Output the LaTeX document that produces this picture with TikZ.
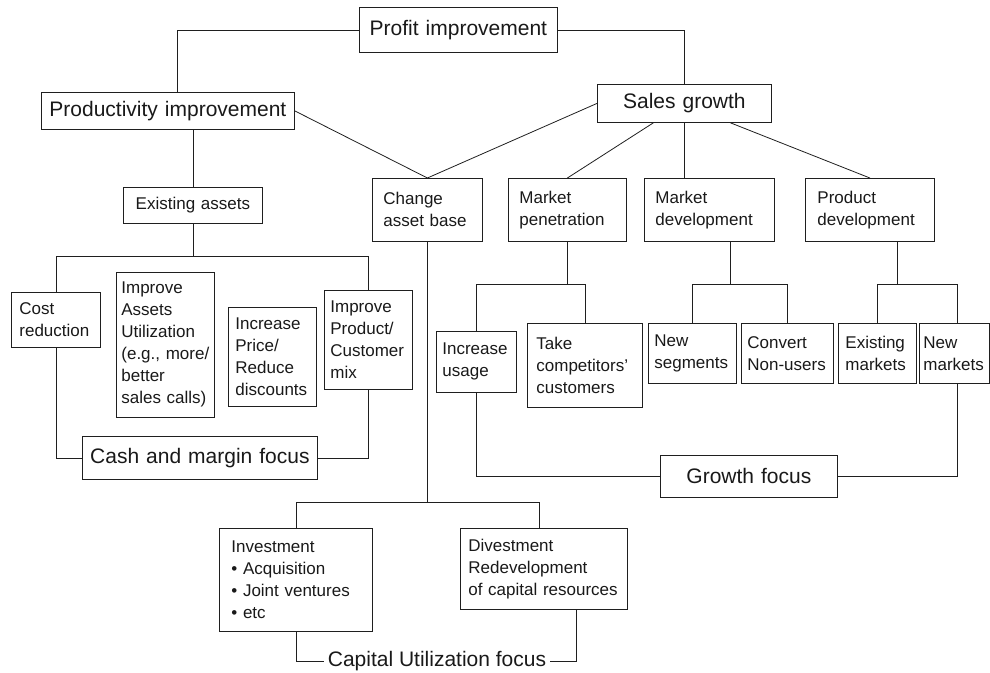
\documentclass[tikz,border=0pt]{standalone}
\usepackage{fontspec}
\setmainfont{Liberation Sans}
\usetikzlibrary{calc}

% box with its top-left corner at (#3,#4) and bottom-right corner at (#5,#6);
% #7 is the horizontal padding, #8 the text
\newcommand{\tbox}[8]{%
  \pgfmathsetmacro{\fbw}{#5-#3}%
  \pgfmathsetmacro{\fbh}{#6-#4}%
  \pgfmathsetmacro{\fbt}{#5-#3-2*#7}%
  \node[#1, anchor=north west, inner xsep=#7pt, text width=\fbt pt,
        minimum width=\fbw pt, minimum height=\fbh pt] (#2) at (#3,#4) {#8};%
}

\tikzset{
  ink/.style={draw=black!88, line width=0.8pt},
  boxbase/.style={ink, inner ysep=0pt, text=black!90},
  bigbox/.style={boxbase, align=center, font=\fontsize{21}{25}\selectfont},
  smallbox/.style={boxbase, align=left, font=\fontsize{17}{22}\selectfont},
  smallc/.style={boxbase, align=center, font=\fontsize{17}{22}\selectfont},
  link/.style={ink},
}

\begin{document}
\begin{tikzpicture}[x=1pt, y=-1pt]
\useasboundingbox (0,0) rectangle (990,672);

% top levels
\tbox{bigbox}{profit}{359}{7}{557}{52}{0}{Profit improvement}
\tbox{bigbox}{prod}{41}{92}{294}{129}{0}{Productivity improvement}
\tbox{bigbox}{sales}{597}{84}{771}{122}{0}{Sales growth}

% second level
\tbox{smallc}{ea}{123}{187}{262}{223}{0}{Existing assets}
\tbox{smallbox}{change}{372}{178}{482}{241}{11}{Change\\asset base}
\tbox{smallbox}{mp}{508}{178}{626}{241}{11}{Market\\penetration}
\tbox{smallbox}{md}{644}{178}{774}{241}{11}{Market\\development}
\tbox{smallbox}{pd}{805}{178}{934}{241}{12}{Product\\development}

% productivity branch
\tbox{smallbox}{cost}{11}{292}{100}{347}{8}{Cost\\reduction}
\tbox{smallbox}{iau}{116}{272}{214}{417}{5}{Improve\\Assets\\Utilization\\(e.g., more/\\better\\sales calls)}
\tbox{smallbox}{ipr}{228}{307}{316}{406}{7}{Increase\\Price/\\Reduce\\discounts}
\tbox{smallbox}{ipm}{324}{290}{412}{389}{6}{Improve\\Product/\\Customer\\mix}
\tbox{bigbox}{cmf}{82}{436}{317}{479}{0}{Cash and margin focus}

% sales branch
\tbox{smallbox}{iu}{436}{331}{516}{392}{6}{Increase\\usage}
\tbox{smallbox}{tcc}{527}{323}{642}{407}{9}{Take\\competitors'\\customers}
\tbox{smallbox}{ns}{648}{323}{736}{383}{6}{New\\segments}
\tbox{smallbox}{cnu}{741}{323}{833}{383}{6}{Convert\\Non-users}
\tbox{smallbox}{em}{838}{323}{916}{383}{7}{Existing\\markets}
\tbox{smallbox}{nm}{919}{323}{989}{383}{4}{New\\markets}
\tbox{bigbox}{gf}{660}{455}{837}{497}{0}{Growth focus}

% asset base branch
\tbox{smallbox}{invest}{219}{528}{372}{631}{12}{Investment\\• Acquisition\\• Joint ventures\\• etc}
\tbox{smallbox}{divest}{460}{528}{627}{609}{8}{Divestment\\Redevelopment\\of capital resources}
\node[font=\fontsize{21}{25}\selectfont, text=black!90, inner xsep=4pt, inner ysep=0pt]
  (cuf) at (437,661) {Capital Utilization focus};

% connectors from the top
\draw[link] (profit.west) -| ([xshift=9.5pt]prod.north);
\draw[link] (profit.east) -| (sales.north);
\draw[link] (prod.east) -- (change.north);
\draw[link] (sales.west) -- (change.north);
\draw[link] ([xshift=-31pt]sales.south) -- (mp.north);
\draw[link] (sales.south) -- (sales.south |- md.north);
\draw[link] ([xshift=46pt]sales.south) -- (pd.north);
\draw[link] (ea.north |- prod.south) -- (ea.north);

% existing assets fork and cash focus
\coordinate (eaj) at ([yshift=-33pt]ea.south);
\draw[link] (ea.south) -- (eaj);
\draw[link] (cost.north) |- (eaj) -| (ipm.north);
\draw[link] (cost.south) |- (cmf.west);
\draw[link] (ipm.south) |- (cmf.east);

% asset base fork and capital focus
\coordinate (cj) at ([yshift=-261pt]change.south);
\draw[link] (change.south) -- (cj);
\draw[link] (invest.north) |- (cj) -| ([xshift=-4.5pt]divest.north);
\draw[link] (invest.south) |- (cuf.west);
\draw[link] ([xshift=32.5pt]divest.south) |- (cuf.east);

% market forks
\coordinate (mpj) at ([yshift=-43pt]mp.south);
\draw[link] (mp.south) -- (mpj);
\draw[link] (iu.north) |- (mpj) -| (tcc.north);
\coordinate (mdj) at ([xshift=21pt,yshift=-43pt]md.south);
\draw[link] ([xshift=21pt]md.south) -- (mdj);
\draw[link] (ns.north) |- (mdj) -| (cnu.north);
\coordinate (pdj) at ([xshift=27.5pt,yshift=-43pt]pd.south);
\draw[link] ([xshift=27.5pt]pd.south) -- (pdj);
\draw[link] (em.north) |- (pdj) -| ([xshift=3pt]nm.north);

% growth focus
\draw[link] (iu.south) |- (gf.west);
\draw[link] ([xshift=3pt]nm.south) |- (gf.east);
\end{tikzpicture}
\end{document}
